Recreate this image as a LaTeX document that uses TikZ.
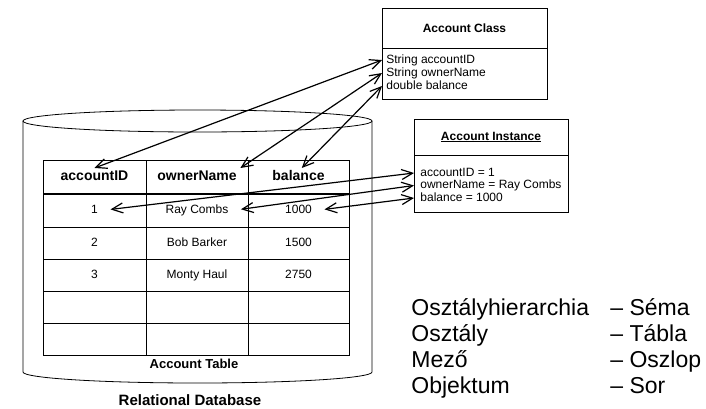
\documentclass[tikz,border=0pt]{standalone}
\usepackage{fontspec}
\setmainfont{Liberation Sans}
\usetikzlibrary{arrows.meta, positioning}

\begin{document}
\begin{tikzpicture}[x=1pt, y=-1pt, line width=0.8pt,
  >={Straight Barb[length=11pt, width=10pt]},
  font=\fontsize{12}{13}\selectfont,
  box/.style={draw, outer sep=0pt, inner sep=0pt},
  title/.style={box, font=\fontsize{12}{13}\selectfont\bfseries},
  field/.style={anchor=west, inner sep=1pt, text height=1.6ex, text depth=0.4ex},
  cell/.style={text height=1.6ex, text depth=0.4ex},
  hd/.style={cell, font=\fontsize{14}{15}\selectfont\bfseries},
  link/.style={<->, line width=1.2pt},
  rowlink/.style={link, shorten >=9pt},
  legend/.style={anchor=base west, inner sep=0pt, font=\fontsize{23}{23}\selectfont}]

\useasboundingbox (0,0) rectangle (706,408);

\draw (23,121) -- (23,372) arc[start angle=180, end angle=360, x radius=174.5pt, y radius=11pt] -- (372,121);
\draw (197.5,121) ellipse[x radius=174.5pt, y radius=11pt];

\draw (43,160) rectangle (349,355);
\foreach \y in {227,259,291,323} \draw (43,\y) -- (349,\y);
\foreach \x in {146,248} \draw (\x,160) -- (\x,355);
\draw[line width=2.5pt] (43,194) -- (349,194);

\node[hd] (hd-id) at (94.5,177) {accountID};
\node[hd] (hd-name) at (197,177) {ownerName};
\node[hd] (hd-bal) at (298.5,177) {balance};
\foreach \i/\id/\name/\bal/\y in {1/1/Ray Combs/1000/210.5, 2/2/Bob Barker/1500/243, 3/3/Monty Haul/2750/275} {
  \node[cell] (r\i-id) at (94.5,\y) {\id};
  \node[cell] (r\i-name) at (197,\y) {\name};
  \node[cell] (r\i-bal) at (298.5,\y) {\bal};
}
\node[font=\fontsize{13}{14}\selectfont\bfseries] (tbl-cap) at (194,364) {Account Table};
\node[font=\fontsize{15}{16}\selectfont\bfseries] (db-cap) at (190,400) {Relational Database};

\node[title, minimum width=165pt, minimum height=40pt] (cls-head) at (464.5,28) {Account Class};
\node[box, minimum width=165pt, minimum height=51pt, below=0pt of cls-head] (cls-body) {};
\node[field] (cf-id) at (385,60) {String accountID};
\node[field] (cf-name) at (385,73) {String ownerName};
\node[field] (cf-bal) at (385,86) {double balance};

\node[title, minimum width=154pt, minimum height=36pt] (inst-head) at (491,137) {\underline{Account Instance}};
\node[box, minimum width=154pt, minimum height=57pt, below=0pt of inst-head] (inst-body) {};
\node[field] (if-id) at (419,173) {accountID = 1};
\node[field] (if-name) at (419,185.5) {ownerName = Ray Combs};
\node[field] (if-bal) at (419,198) {balance = 1000};

\draw[link] (cls-body.west |- cf-id) -- (hd-id.north);
\draw[link] (cls-body.west |- cf-name) -- (hd-name.north east);
\draw[link] (cls-body.west |- cf-bal) -- (hd-bal.70);
\draw[rowlink] (inst-body.west |- if-id) -- (r1-id.east);
\draw[rowlink] (inst-body.west |- if-name) -- (r1-name.east);
\draw[rowlink] (inst-body.west |- if-bal) -- (r1-bal.east);

\foreach \a/\b/\y in {Osztályhierarchia/Séma/315, Osztály/Tábla/341, Mező/Oszlop/367, Objektum/Sor/393} {
  \node[legend] (key\y) at (411,\y) {\a};
  \node[legend] (val\y) at (610,\y) {-- \b};
}
\end{tikzpicture}
\end{document}
